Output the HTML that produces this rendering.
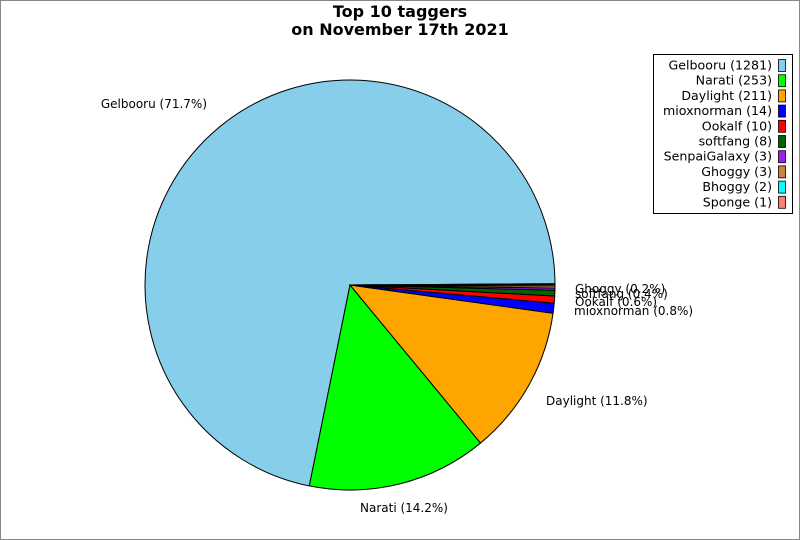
<!DOCTYPE html>
<html><head><meta charset="utf-8"><style>
html,body{margin:0;padding:0;background:#fff}
svg{display:block;font-family:"DejaVu Sans","Liberation Sans",sans-serif}
</style></head><body>
<svg id="s" width="800" height="540" xmlns="http://www.w3.org/2000/svg">
<rect x="0.5" y="0.5" width="799" height="539" fill="#fff" stroke="#888" stroke-width="1"/>
<text x="400" y="17" text-anchor="middle" font-size="16" font-weight="bold">Top 10 taggers</text>
<text x="400" y="35" text-anchor="middle" font-size="16" font-weight="bold">on November 17th 2021</text>
<g id="pie"></g>
<g font-size="12" fill="#000">
<text x="207" y="108" text-anchor="end">Gelbooru (71.7%)</text>
<text x="360" y="512">Narati (14.2%)</text>
<text x="546" y="405">Daylight (11.8%)</text>
<text x="574" y="315">mioxnorman (0.8%)</text>
<text x="575" y="306">Ookalf (0.6%)</text>
<text x="575" y="298">softfang (0.4%)</text>
<text x="575" y="293">Ghoggy (0.2%)</text>
</g>
<rect x="653.5" y="54.5" width="139" height="159" fill="#fff" stroke="#000"/>
<g id="leg" font-size="12.6"></g>
</svg>
<script>
var d=[["Gelbooru",1281,"#87ceeb"],["Narati",253,"#00ff00"],["Daylight",211,"#ffa500"],["mioxnorman",14,"#0000ff"],["Ookalf",10,"#ff0000"],["softfang",8,"#006400"],["SenpaiGalaxy",3,"#a020f0"],["Ghoggy",3,"#cd853f"],["Bhoggy",2,"#00ffff"],["Sponge",1,"#fa8072"]];
var tot=0;d.forEach(function(e){tot+=e[1]});
var cx=350,cy=285,r=205,a=0.006,h="";
d.forEach(function(e){var b=a+e[1]/tot*2*Math.PI;
var x1=cx+r*Math.cos(a),y1=cy-r*Math.sin(a),x2=cx+r*Math.cos(b),y2=cy-r*Math.sin(b);
var lg=(b-a)>Math.PI?1:0;
h+='<path d="M'+cx+','+cy+' L'+x1+','+y1+' A'+r+','+r+' 0 '+lg+' 0 '+x2+','+y2+' Z" fill="'+e[2]+'" stroke="#000" stroke-width="1"/>';a=b;});
document.getElementById("pie").innerHTML=h;
var l="";d.forEach(function(e,i){var y=65+i*15.2;
l+='<text x="772" y="'+(y+4.5)+'" text-anchor="end">'+e[0]+' ('+e[1]+')</text><rect x="778.5" y="'+(y-5.5)+'" width="7" height="12" fill="'+e[2]+'" stroke="#000" stroke-width="0.8"/>';});
document.getElementById("leg").innerHTML=l;
</script>
</body></html>
